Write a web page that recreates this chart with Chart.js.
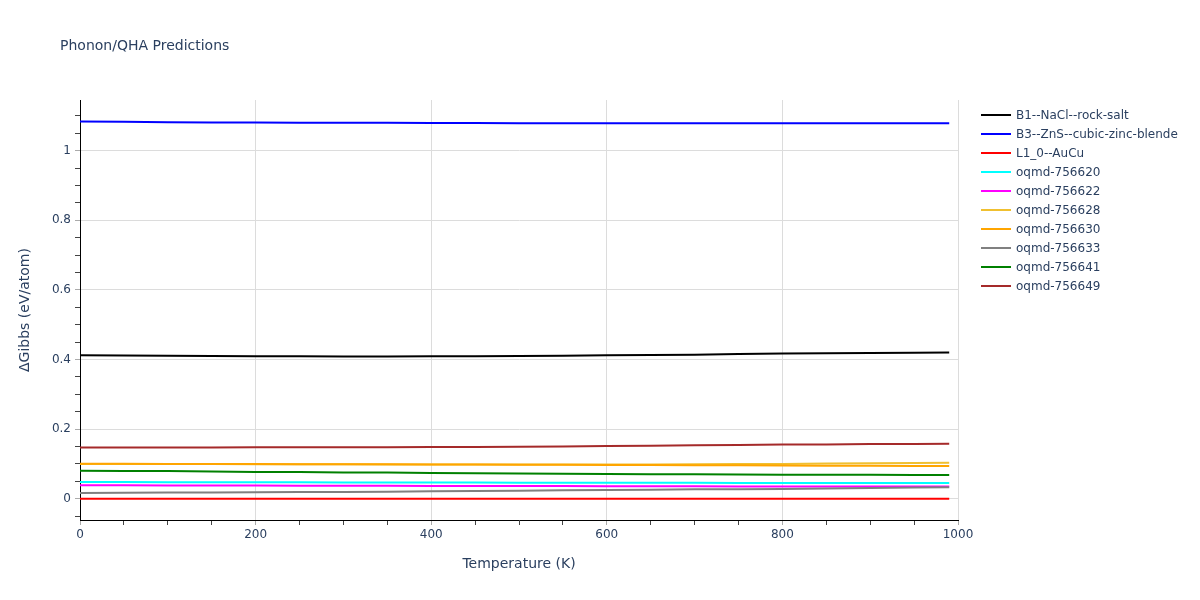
<!DOCTYPE html>
<html>
<head>
<meta charset="utf-8">
<script src="https://cdn.jsdelivr.net/npm/chart.js@4/dist/chart.umd.min.js"></script>
<style>
  body { margin: 0; background: #fff; }
  #wrap { position: relative; width: 1200px; height: 600px; font-family: "DejaVu Sans", sans-serif; color: #2a3f5f; }
  #title { position: absolute; left: 60px; top: 37px; font-size: 14px; white-space: nowrap; }
  #legend { position: absolute; left: 981px; top: 105px; font-size: 12px; }
  .item { height: 19px; display: flex; align-items: center; white-space: nowrap; }
  .swatch { width: 30px; height: 2px; margin-right: 5px; }
</style>
</head>
<body>
<div id="wrap">
  <canvas id="myChart" width="1200" height="600"></canvas>
  <div id="title">Phonon/QHA Predictions</div>
  <div id="legend"></div>
</div>
<script>
// data
const temperatures = [0, 50, 100, 150, 200, 250, 300, 350, 400, 450, 500, 550, 600, 650, 700, 750, 800, 850, 900, 950, 990];

const seriesNames = [
  "B1--NaCl--rock-salt",
  "B3--ZnS--cubic-zinc-blende",
  "L1_0--AuCu",
  "oqmd-756620",
  "oqmd-756622",
  "oqmd-756628",
  "oqmd-756630",
  "oqmd-756633",
  "oqmd-756641",
  "oqmd-756649",
];
const seriesColors = ["#000000", "#0000ff", "#ff0000", "#00ffff", "#ff00ff", "#f0c030", "#ffa500", "#808080", "#008000", "#a52a2a"];

const gibbsB1 = [0.412, 0.4115, 0.411, 0.410, 0.4095, 0.409, 0.4085, 0.4085, 0.409, 0.4095, 0.410, 0.411, 0.412, 0.413, 0.414, 0.4155, 0.417, 0.418, 0.419, 0.4195, 0.420];
const gibbsB3 = [1.084, 1.083, 1.082, 1.081, 1.081, 1.0805, 1.080, 1.080, 1.0795, 1.0795, 1.079, 1.079, 1.079, 1.079, 1.079, 1.079, 1.079, 1.079, 1.079, 1.079, 1.079];
const gibbsL10 = [0, 0, 0, 0, 0, 0, 0, 0, 0, 0, 0, 0, 0, 0, 0, 0, 0, 0, 0, 0, 0];
const gibbs756620 = [0.048, 0.0478, 0.0476, 0.0474, 0.0472, 0.047, 0.0468, 0.0466, 0.0464, 0.0462, 0.046, 0.046, 0.0458, 0.0456, 0.0455, 0.0454, 0.0453, 0.0452, 0.0451, 0.045, 0.045];
const gibbs756622 = [0.0385, 0.0383, 0.038, 0.0378, 0.0376, 0.0374, 0.0372, 0.037, 0.0368, 0.0366, 0.0364, 0.0362, 0.036, 0.0358, 0.0356, 0.0354, 0.0352, 0.0351, 0.035, 0.035, 0.035];
const gibbs756628 = [0.100, 0.0998, 0.0996, 0.0994, 0.0992, 0.099, 0.0988, 0.0986, 0.0985, 0.0984, 0.0983, 0.0983, 0.0984, 0.0986, 0.099, 0.0995, 0.100, 0.101, 0.102, 0.1025, 0.103];
const gibbs756630 = [0.1005, 0.1002, 0.100, 0.0998, 0.0995, 0.0992, 0.099, 0.0987, 0.0984, 0.098, 0.0977, 0.0973, 0.097, 0.0966, 0.0962, 0.0958, 0.0954, 0.095, 0.0946, 0.0943, 0.094];
const gibbs756633 = [0.0165, 0.017, 0.0175, 0.018, 0.0185, 0.019, 0.0195, 0.020, 0.0215, 0.022, 0.023, 0.024, 0.025, 0.026, 0.027, 0.0275, 0.028, 0.029, 0.031, 0.032, 0.033];
const gibbs756641 = [0.080, 0.0798, 0.0795, 0.078, 0.077, 0.0765, 0.0755, 0.075, 0.074, 0.073, 0.0723, 0.0715, 0.071, 0.0705, 0.070, 0.0695, 0.069, 0.0687, 0.0685, 0.0682, 0.068];
const gibbs756649 = [0.147, 0.147, 0.1472, 0.1474, 0.1476, 0.1478, 0.148, 0.1482, 0.1484, 0.1487, 0.149, 0.150, 0.1515, 0.1525, 0.1535, 0.1545, 0.1555, 0.156, 0.157, 0.1575, 0.158];

const seriesValues = [gibbsB1, gibbsB3, gibbsL10, gibbs756620, gibbs756622, gibbs756628, gibbs756630, gibbs756633, gibbs756641, gibbs756649];

const TEXT_COLOR = "#2a3f5f";
const GRID_COLOR = "#dcdcdc";
const FONT = "'DejaVu Sans', sans-serif";

// is this tick value a multiple of step (labelled major tick)
function isMajor(v, step) {
  const r = v / step;
  return Math.abs(r - Math.round(r)) < 1e-6;
}

// build datasets; later series drawn on top, like plotly
const datasets = seriesNames.map((name, i) => ({
  label: name,
  data: temperatures.map((t, j) => ({x: t, y: seriesValues[i][j]})),
  borderColor: seriesColors[i],
  backgroundColor: seriesColors[i],
  borderWidth: 2,
  pointRadius: 0,
  tension: 0,
  order: seriesNames.length - i,
}));

// html legend
const legendEl = document.getElementById('legend');
seriesNames.forEach((name, i) => {
  legendEl.insertAdjacentHTML("beforeend",
    '<div class="item"><div class="swatch" style="background:' + seriesColors[i] + '"></div>' + name + '</div>');
});

var ctx = document.getElementById("myChart").getContext("2d");
var chart = new Chart(ctx, {
  type: 'line',
  data: { datasets: datasets },
  options: {
    responsive: false,
    animation: false,
    layout: { padding: { left: 0, top: 100, right: 242, bottom: 0 } },
    scales: {
      x: {
        type: 'linear',
        min: 0,
        max: 1000,
        afterFit: (scale) => { scale.height = 80; },
        border: { display: true, color: '#000', width: 1 },
        grid: {
          color: (c) => (c.tick && isMajor(c.tick.value, 200) && c.tick.value !== 0) ? GRID_COLOR : 'rgba(0,0,0,0)',
          tickColor: (c) => (c.tick && isMajor(c.tick.value, 200)) ? '#aaa' : '#444',
          tickLength: 5,
          drawTicks: true,
        },
        ticks: {
          stepSize: 50,
          includeBounds: false,
          autoSkip: false,
          maxRotation: 0,
          padding: 3,
          color: TEXT_COLOR,
          font: { family: FONT, size: 12 },
          callback: (v) => isMajor(v, 200) ? String(v) : '',
        },
        title: {
          display: true,
          text: 'Temperature (K)',
          color: TEXT_COLOR,
          font: { family: FONT, size: 14 },
          padding: { top: 0, bottom: 27 },
        },
      },
      y: {
        type: 'linear',
        min: -0.0612,
        max: 1.1457,
        afterFit: (scale) => { scale.width = 80; },
        border: { display: true, color: '#000', width: 1 },
        grid: {
          color: (c) => (c.tick && isMajor(c.tick.value, 0.2)) ? GRID_COLOR : 'rgba(0,0,0,0)',
          tickColor: (c) => (c.tick && isMajor(c.tick.value, 0.2)) ? '#aaa' : '#444',
          tickLength: 5,
          drawTicks: true,
        },
        ticks: {
          stepSize: 0.05,
          includeBounds: false,
          autoSkip: false,
          padding: 4,
          color: TEXT_COLOR,
          font: { family: FONT, size: 12 },
          callback: (v) => isMajor(v, 0.2) ? String(Number(v.toFixed(1))) : '',
        },
        title: {
          display: true,
          text: 'ΔGibbs (eV/atom)',
          color: TEXT_COLOR,
          font: { family: FONT, size: 14 },
          padding: { top: 17, bottom: 0 },
        },
      },
    },
    plugins: {
      legend: { display: false },
      title: { display: false },
      tooltip: { enabled: false },
    },
  },
});
</script>
</body>
</html>
